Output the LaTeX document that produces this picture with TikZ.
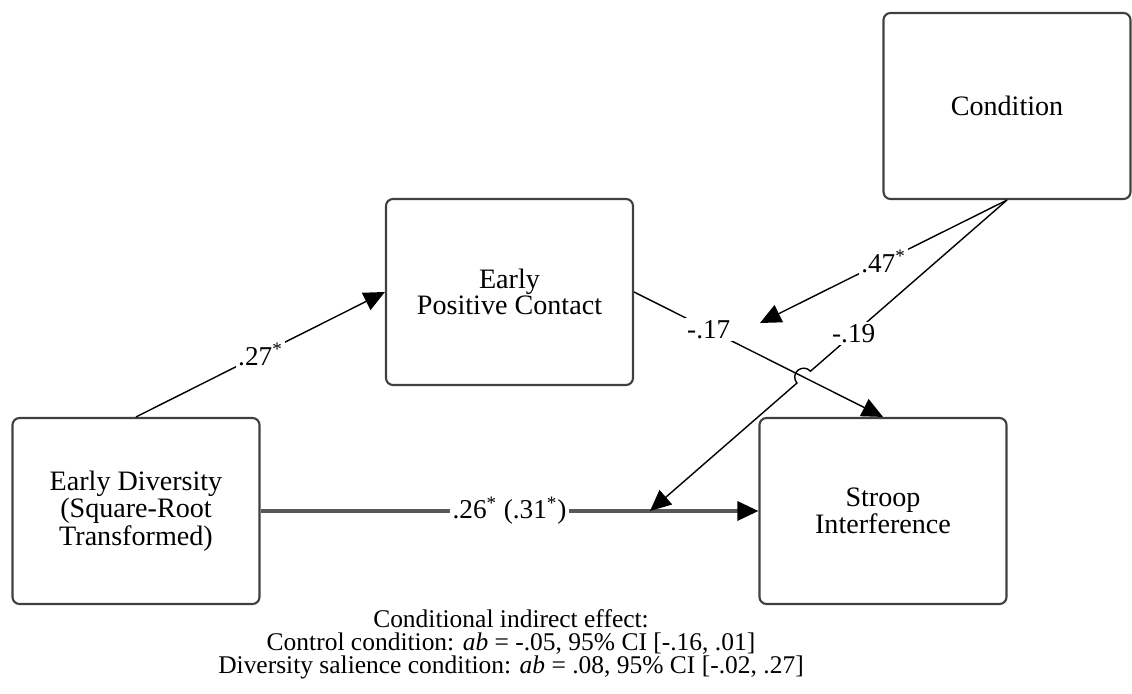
\documentclass[tikz,border=0pt]{standalone}
\usepackage{fontspec}
\setmainfont{Liberation Serif}
\usetikzlibrary{arrows.meta,calc}
\begin{document}
\begin{tikzpicture}
\tikzstyle{boite} = [draw=black!75, line width=1.2pt, rounded corners=4pt, minimum width=4.94cm, minimum height=3.72cm, align=center, inner sep=0pt, font=\fontsize{16}{14.5}\selectfont];
\tikzstyle{fleche} = [-{Triangle[length=0.42cm,width=0.38cm,color=black]}, line width=0.8pt, black];
\tikzstyle{coef} = [fill=white, inner sep=1.5pt, font=\fontsize{15.5}{15.5}\selectfont];

\useasboundingbox (0,0) rectangle (22.64,13.86);

% les quatre variables
\node[boite] (cond) at (20.14,11.74) {Condition};
\node[boite] (epc) at (10.19,8.02) {Early\\Positive Contact};
\node[boite] (div) at (2.72,3.64) {Early Diversity\\(Square-Root\\Transformed)};
\node[boite] (stroop) at (17.66,3.64) {Stroop\\Interference};

\coordinate (mod1) at (15.2,7.4);
\coordinate (mod2) at (13.0,3.64);
\coordinate (saut) at (intersection of cond.south--mod2 and epc.east--stroop.north);

\draw[fleche] (div.north) -- node[coef] {.27\textsuperscript{*}} (epc.west);
\draw[fleche] (epc.east) -- node[coef,pos=0.3] {-.17} (stroop.north);
\draw[fleche, line width=1.8pt, black!65] (div.east) -- node[coef,text=black] {.26\textsuperscript{*} (.31\textsuperscript{*})} (stroop.west);

% moderation par la condition
\draw[fleche] (cond.south) -- node[coef] {.47\textsuperscript{*}} (mod1);
\draw[fleche] (cond.south) -- node[coef,pos=0.78] {-.19} ($(saut)!0.18cm!(cond.south)$)
  arc[start angle=41.2, delta angle=180, radius=0.18cm] -- (mod2);

\node[font=\fontsize{14.5}{13}\selectfont, align=center] (effet) at (10.22,0.98)
  {Conditional indirect effect:\\
   Control condition: \textit{ab} = -.05, 95\% CI [-.16, .01]\\
   Diversity salience condition: \textit{ab} = .08, 95\% CI [-.02, .27]};

\end{tikzpicture}
\end{document}
